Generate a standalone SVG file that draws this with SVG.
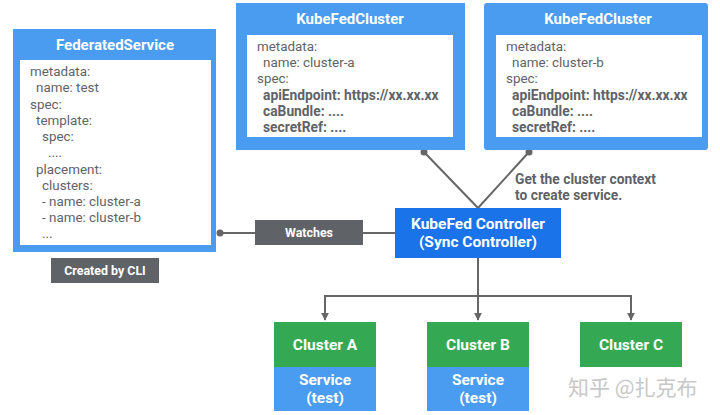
<svg xmlns="http://www.w3.org/2000/svg" width="720" height="415" viewBox="0 0 720 415">
<defs>
<style>
.frame{fill:#4a9cf0}
.inner{fill:#ffffff}
.title{font-family:Roboto,"Liberation Sans",sans-serif;font-weight:bold;font-size:15px;fill:#ffffff;text-anchor:middle}
.body{font-family:Roboto,"Liberation Sans",sans-serif;font-size:13.4px;fill:#5f6368}
.b{font-weight:bold;font-size:13.8px}
.lbl{font-family:Roboto,"Liberation Sans",sans-serif;font-weight:bold;font-size:12.4px;fill:#ffffff;text-anchor:middle}
.wl{font-family:Roboto,"Liberation Sans",sans-serif;font-weight:bold;font-size:15.5px;fill:#ffffff;text-anchor:middle}
.line{stroke:#666666;stroke-width:2;fill:none}
.dot{fill:#666666}
.green{fill:#34a853}
.svc{fill:#4a9cf0}
</style>
<marker id="arr" viewBox="0 0 10 10" refX="9" refY="5" markerWidth="4" markerHeight="4" orient="auto">
<path d="M0,0 L10,5 L0,10 z" fill="#666666"/>
</marker>
</defs>
<rect width="720" height="415" fill="#ffffff"/>

<g id="connectors">
<line class="line" x1="220" y1="233" x2="395" y2="233"/>
<circle class="dot" cx="220" cy="233" r="3.5"/>
<line class="line" x1="424" y1="152" x2="478" y2="208"/>
<line class="line" x1="529" y1="152" x2="478" y2="208"/>
<circle class="dot" cx="424" cy="152" r="3.5"/>
<circle class="dot" cx="529" cy="152" r="3.5"/>
<line class="line" x1="478" y1="258" x2="478" y2="320" marker-end="url(#arr)"/>
<polyline class="line" points="325,300 325,296 631,296 631,300"/>
<line class="line" x1="325" y1="295" x2="325" y2="320" marker-end="url(#arr)"/>
<line class="line" x1="631" y1="295" x2="631" y2="320" marker-end="url(#arr)"/>
</g>

<g id="watches">
<rect x="255" y="220" width="108" height="25" fill="#5f6368"/>
<text class="lbl" x="309" y="237">Watches</text>
</g>

<g id="federated-service">
<rect class="frame" x="13" y="29" width="203" height="223"/>
<rect class="inner" x="20" y="60" width="191" height="185"/>
<text class="title" x="115" y="50">FederatedService</text>
<text class="body" x="30" y="76">metadata:</text>
<text class="body" x="36" y="92">name: test</text>
<text class="body" x="30" y="109">spec:</text>
<text class="body" x="36" y="125">template:</text>
<text class="body" x="42" y="141">spec:</text>
<text class="body" x="48" y="157">....</text>
<text class="body" x="36" y="174">placement:</text>
<text class="body" x="42" y="190">clusters:</text>
<text class="body" x="42" y="206">- name: cluster-a</text>
<text class="body" x="42" y="222">- name: cluster-b</text>
<text class="body" x="42" y="238">...</text>
</g>

<g id="created-by-cli">
<rect x="51" y="258" width="108" height="25" fill="#5f6368"/>
<text class="lbl" x="105" y="275">Created by CLI</text>
</g>

<g id="kubefedcluster-a">
<rect class="frame" x="236" y="3" width="229" height="147"/>
<rect class="inner" x="247" y="35" width="206" height="102"/>
<text class="title" x="350" y="24">KubeFedCluster</text>
<text class="body" x="257" y="51">metadata:</text>
<text class="body" x="263" y="67">name: cluster-a</text>
<text class="body" x="257" y="83">spec:</text>
<text class="body b" x="263" y="100">apiEndpoint: https://xx.xx.xx</text>
<text class="body b" x="263" y="116">caBundle: ....</text>
<text class="body b" x="263" y="132">secretRef: ....</text>
</g>

<g id="kubefedcluster-b">
<rect class="frame" x="484" y="3" width="224" height="147" rx="3"/>
<rect class="inner" x="496" y="35" width="206" height="102"/>
<text class="title" x="598" y="24">KubeFedCluster</text>
<text class="body" x="506" y="51">metadata:</text>
<text class="body" x="512" y="67">name: cluster-b</text>
<text class="body" x="506" y="83">spec:</text>
<text class="body b" x="512" y="100">apiEndpoint: https://xx.xx.xx</text>
<text class="body b" x="512" y="116">caBundle: ....</text>
<text class="body b" x="512" y="132">secretRef: ....</text>
</g>

<g id="context-label">
<text class="body b" x="515" y="184">Get the cluster context</text>
<text class="body b" x="515" y="200">to create service.</text>
</g>

<g id="kubefed-controller">
<rect x="395" y="208" width="166" height="50" fill="#1a73e8"/>
<text class="wl" x="478" y="229">KubeFed Controller</text>
<text class="wl" x="478" y="247">(Sync Controller)</text>
</g>

<g id="cluster-a">
<rect class="green" x="274" y="322" width="102" height="45"/>
<text class="wl" x="325" y="350">Cluster A</text>
<rect class="svc" x="274" y="367" width="102" height="44"/>
<text class="wl" x="325" y="385">Service</text>
<text class="wl" x="325" y="403">(test)</text>
</g>

<g id="cluster-b">
<rect class="green" x="427" y="322" width="102" height="45"/>
<text class="wl" x="478" y="350">Cluster B</text>
<rect class="svc" x="427" y="367" width="102" height="44"/>
<text class="wl" x="478" y="385">Service</text>
<text class="wl" x="478" y="403">(test)</text>
</g>

<g id="cluster-c">
<rect class="green" x="580" y="322" width="102" height="45"/>
<text class="wl" x="631" y="350">Cluster C</text>
</g>

<text x="568" y="395" font-family="'Noto Sans CJK SC',sans-serif" font-size="21" fill="#c8c8c8">知乎 @扎克布</text>
</svg>
